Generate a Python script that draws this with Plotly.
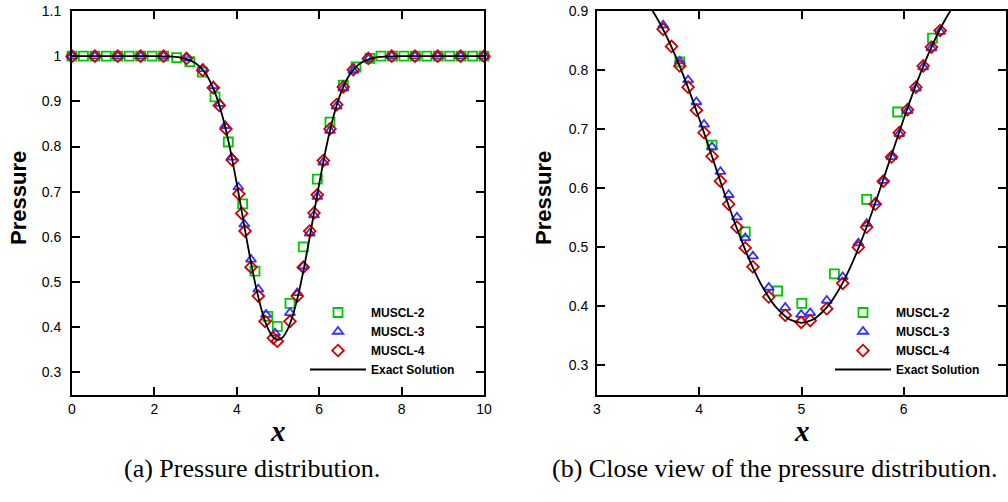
import plotly.graph_objects as go

# ---------------- data ----------------
# Exact solution
EXACT_X = [0, 1, 2, 2.5, 2.75, 3.0, 3.125, 3.25, 3.375, 3.5, 3.625, 3.75, 3.875, 4.0,
           4.125, 4.25, 4.375, 4.5, 4.625, 4.75, 4.875, 5.0,
           5.125, 5.25, 5.375, 5.5, 5.625, 5.75, 5.875, 6.0, 6.125, 6.25, 6.375, 6.5,
           6.625, 6.75, 6.875, 7.0, 7.25, 7.5, 8, 9, 10]
EXACT_P = [1.0, 1.0, 0.9999, 0.9983, 0.9946, 0.9843, 0.9746, 0.9603, 0.9399, 0.9121, 0.8759,
           0.8309, 0.7775, 0.7175, 0.6536, 0.5894, 0.5288, 0.4750, 0.4310, 0.3986, 0.3788,
           0.3722,
           0.3788, 0.3986, 0.4310, 0.4750, 0.5288, 0.5894, 0.6536, 0.7175, 0.7775, 0.8309,
           0.8759, 0.9121, 0.9399, 0.9603, 0.9746, 0.9843, 0.9946, 0.9983, 0.9999, 1.0, 1.0]

# (a) full view
M2_X = [0, 0.278, 0.556, 0.833, 1.111, 1.389, 1.667, 1.944, 2.222, 2.54, 2.86, 3.163, 3.471,
        3.794, 4.142, 4.442, 4.75, 4.983, 5.291, 5.614, 5.954, 6.262, 6.585, 6.893, 7.233,
        7.5, 7.778, 8.056, 8.333, 8.611, 8.889, 9.167, 9.444, 9.722, 10.0]
M2_P = [1.0, 1.0, 1.0, 1.0, 1.0, 1.0, 1.0, 1.0, 1.0, 0.997, 0.988, 0.965, 0.910,
        0.810, 0.673, 0.524, 0.424, 0.402, 0.453, 0.578, 0.728, 0.854, 0.936, 0.976, 0.995,
        1.0, 1.0, 1.0, 1.0, 1.0, 1.0, 1.0, 1.0, 1.0, 1.0]

M3_X = [0, 0.556, 1.111, 1.667, 2.222, 2.78, 3.18, 3.43, 3.59, 3.72, 3.876, 4.037, 4.183,
        4.345, 4.522, 4.709, 4.927, 5.291, 5.468, 5.614, 5.77, 5.874, 5.954, 6.1, 6.262,
        6.424, 6.585, 6.828, 7.192, 7.76, 8.325, 8.876, 9.434, 10.0]
M3_P = [1.0, 1.0, 1.0, 1.0, 1.0, 0.996, 0.972, 0.934, 0.895, 0.846, 0.776, 0.710, 0.628,
        0.550, 0.484, 0.428, 0.387, 0.432, 0.476, 0.535, 0.608, 0.648, 0.689, 0.765, 0.835,
        0.889, 0.929, 0.968, 0.994, 1.0, 1.0, 1.0, 1.0, 1.0]

M4_X = [0, 0.556, 1.111, 1.667, 2.222, 2.78, 3.17, 3.43, 3.575, 3.738, 3.89, 4.05, 4.12,
        4.2, 4.345, 4.522, 4.684, 4.886, 4.983, 5.291, 5.468, 5.614, 5.77, 5.874, 5.954,
        6.1, 6.262, 6.424, 6.585, 6.828, 7.192, 7.76, 8.325, 8.876, 9.434, 10.0]
M4_P = [1.0, 1.0, 1.0, 1.0, 1.0, 0.995, 0.969, 0.930, 0.891, 0.839, 0.770, 0.695, 0.652,
        0.613, 0.533, 0.469, 0.413, 0.376, 0.369, 0.413, 0.469, 0.533, 0.613, 0.653, 0.693,
        0.769, 0.839, 0.893, 0.932, 0.970, 0.995, 1.0, 1.0, 1.0, 1.0, 1.0]

# (b) close view
Z2_X = [3.81, 4.125, 4.45, 4.766, 5.003, 5.322, 5.637, 5.94, 6.281]
Z2_P = [0.814, 0.673, 0.526, 0.426, 0.405, 0.455, 0.581, 0.729, 0.854]

Z3_X = [3.647, 3.81, 3.891, 3.972, 4.047, 4.125, 4.207, 4.288, 4.369, 4.45, 4.525, 4.68,
        4.841, 4.997, 5.085, 5.247, 5.403, 5.556, 5.637, 5.722, 5.8, 5.881, 5.956, 6.037,
        6.119, 6.19, 6.271, 6.356]
Z3_P = [0.876, 0.815, 0.783, 0.746, 0.708, 0.670, 0.628, 0.589, 0.551, 0.516, 0.485, 0.432,
        0.398, 0.386, 0.389, 0.410, 0.450, 0.507, 0.540, 0.576, 0.613, 0.653, 0.692, 0.731,
        0.769, 0.805, 0.837, 0.865]

Z4_X = [3.647, 3.729, 3.81, 3.891, 3.972, 4.047, 4.125, 4.207, 4.288, 4.369, 4.45, 4.525,
        4.68, 4.841, 4.997, 5.085, 5.247, 5.403, 5.556, 5.637, 5.722, 5.8, 5.881, 5.956,
        6.037, 6.119, 6.19, 6.271, 6.356]
Z4_P = [0.869, 0.840, 0.807, 0.771, 0.732, 0.694, 0.654, 0.612, 0.573, 0.534, 0.499, 0.467,
        0.416, 0.385, 0.373, 0.376, 0.396, 0.439, 0.500, 0.534, 0.573, 0.612, 0.653, 0.694,
        0.733, 0.771, 0.807, 0.839, 0.867]

NAMES = ["MUSCL-2", "MUSCL-3", "MUSCL-4", "Exact Solution"]
Y_TICKS_A = [0.3, 0.4, 0.5, 0.6, 0.7, 0.8, 0.9, 1.0, 1.1]
Y_TEXT_A = ["0.3", "0.4", "0.5", "0.6", "0.7", "0.8", "0.9", "1", "1.1"]
X_TICKS_A = [0, 2, 4, 6, 8, 10]
Y_TICKS_B = [0.3, 0.4, 0.5, 0.6, 0.7, 0.8, 0.9]
X_TICKS_B = [3, 4, 5, 6, 7]
CAPTIONS = ["(a) Pressure distribution.", "(b) Close view of the pressure distribution."]

# ---------------- style ----------------
GREEN = "#00c800"
BLUE = "#3232ff"
RED = "#d20000"
W, H = 1008, 502
SANS = "Liberation Sans, Arial, Helvetica, sans-serif"
SERIF = "Liberation Serif, Times New Roman, serif"

fig = go.Figure()


def add_set(xa, ya, sets, legend, clip):
    styles = [("square-open", GREEN), ("triangle-up-open", BLUE), ("diamond-open", RED)]
    for (xs, ps), (sym, col), name in zip(sets, styles, NAMES):
        fig.add_trace(go.Scatter(
            x=xs, y=ps, mode="markers", name=name, legend=legend,
            xaxis=xa, yaxis=ya, cliponaxis=clip,
            marker=dict(symbol=sym, size=9, color=col, line=dict(width=1.8, color=col)),
        ))
    fig.add_trace(go.Scatter(
        x=EXACT_X, y=EXACT_P, mode="lines", name=NAMES[3], legend=legend,
        xaxis=xa, yaxis=ya, line=dict(color="black", width=1.8, shape="spline", smoothing=0.6),
    ))


add_set("x", "y", [(M2_X, M2_P), (M3_X, M3_P), (M4_X, M4_P)], "legend", False)
add_set("x2", "y2", [(Z2_X, Z2_P), (Z3_X, Z3_P), (Z4_X, Z4_P)], "legend2", True)

axis_common = dict(
    showline=True, linecolor="black", linewidth=2, mirror="ticks",
    ticks="inside", ticklen=8, tickwidth=2, tickcolor="black",
    showgrid=False, zeroline=False, automargin=False,
    tickfont=dict(family=SANS, size=14, color="black"),
)

ydom = [(H - 395) / H, (H - 11) / H]
fig.update_layout(
    width=W, height=H, margin=dict(l=0, r=0, t=0, b=0, pad=0, autoexpand=False),
    paper_bgcolor="white", plot_bgcolor="white",
    xaxis=dict(domain=[72 / W, 484 / W], range=[0, 10], tickvals=X_TICKS_A, anchor="y",
               ticklabelstandoff=0, **axis_common),
    yaxis=dict(domain=ydom, range=[0.25, 1.1], tickvals=Y_TICKS_A, ticktext=Y_TEXT_A,
               anchor="x", ticklabelstandoff=6, **axis_common),
    xaxis2=dict(domain=[597 / W, 1006 / W], range=[3, 7], tickvals=X_TICKS_B, anchor="y2",
                ticklabelstandoff=0, **axis_common),
    yaxis2=dict(domain=ydom, range=[0.25, 0.9], tickvals=Y_TICKS_B, anchor="x2",
                ticklabelstandoff=4, **axis_common),
    legend=dict(x=305 / W, y=(H - 341) / H, xanchor="left", yanchor="middle",
                bgcolor="rgba(0,0,0,0)", itemwidth=56, tracegroupgap=0,
                font=dict(family=SANS, size=12, color="black", weight="bold")),
    legend2=dict(x=830 / W, y=(H - 341) / H, xanchor="left", yanchor="middle",
                 bgcolor="rgba(0,0,0,0)", itemwidth=56, tracegroupgap=0,
                 font=dict(family=SANS, size=12, color="black", weight="bold")),
    showlegend=True,
)

ann = []
for xc in (18, 543):
    ann.append(dict(text="Pressure", x=xc / W, y=(H - 198) / H, xref="paper", yref="paper",
                    xanchor="center", yanchor="middle", textangle=-90, showarrow=False,
                    font=dict(family=SANS, size=22, color="black", weight="bold")))
for xc in (278, 802):
    ann.append(dict(text="x", x=xc / W, y=(H - 413) / H, xref="paper", yref="paper",
                    xanchor="center", yanchor="top", showarrow=False,
                    font=dict(family=SERIF, size=29, color="black", weight="bold",
                              style="italic")))
for xc, cap in zip((252, 775), CAPTIONS):
    ann.append(dict(text=cap, x=xc / W, y=(H - 468) / H, xref="paper", yref="paper",
                    xanchor="center", yanchor="middle", showarrow=False,
                    font=dict(family=SERIF, size=26, color="black")))
fig.update_layout(annotations=ann)

fig.write_html(
    "out.html",
    config={"displayModeBar": False},
    post_script=("document.body.style.margin='0px';"
                 "document.body.style.overflow='hidden';"
                 "document.documentElement.style.overflow='hidden';"),
)
